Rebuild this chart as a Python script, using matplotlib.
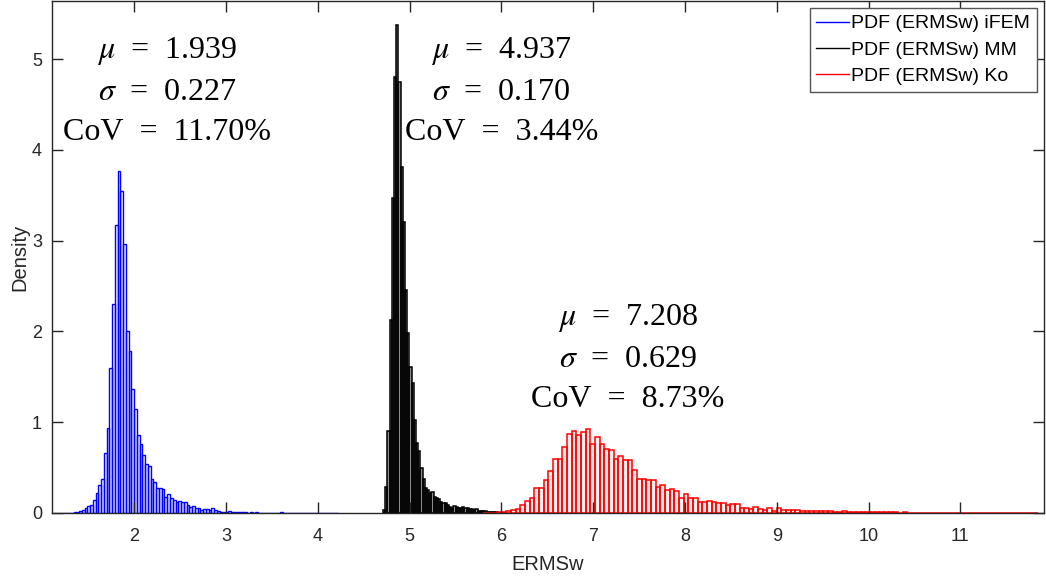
import numpy as np
import matplotlib
matplotlib.use("Agg")
import matplotlib.pyplot as plt
from matplotlib.lines import Line2D
from matplotlib.colors import to_rgba

# histogram data (pdf-normalised densities)
ifem_start, ifem_width = 1.22, 0.030
ifem_density = [
    0.0, 0.003, 0.005, 0.003, 0.01, 0.015, 0.02, 0.035, 0.06, 0.075,
    0.09, 0.145, 0.22, 0.31, 0.375, 0.66, 0.94, 1.6, 2.3, 3.17,
    3.77, 3.55, 2.96, 2.0, 1.78, 1.37, 1.15, 0.86, 0.76, 0.64,
    0.54, 0.52, 0.38, 0.34, 0.28, 0.27, 0.26, 0.18, 0.21, 0.16,
    0.14, 0.12, 0.13, 0.12, 0.12, 0.09, 0.07, 0.08, 0.05, 0.06,
    0.03, 0.04, 0.045, 0.037, 0.05, 0.03, 0.02, 0.015, 0.008, 0.008,
    0.022, 0.012, 0.006, 0.008, 0.015, 0.006, 0.01, 0.004, 0.008, 0.004,
    0.012, 0.004, 0.003, 0.003, 0.003, 0.002, 0.003, 0.002, 0.003, 0.016,
    0.002, 0.002, 0.002, 0.001, 0.002, 0.001, 0.002, 0.001, 0.001, 0.002,
    0.001, 0.001, 0.001, 0.0, 0.001, 0.001, 0.0, 0.0, 0.0, 0.001,
]

mm_start, mm_width = 4.71, 0.024
mm_density = [
    0.03, 0.29, 0.9, 2.13, 3.47, 4.8, 5.38, 4.75, 3.81, 3.21,
    2.46, 1.98, 1.61, 1.43, 1.03, 0.77, 0.68, 0.5, 0.37, 0.27,
    0.25, 0.22, 0.235, 0.18, 0.17, 0.15, 0.125, 0.11, 0.105, 0.085,
    0.07, 0.06, 0.077, 0.07, 0.05, 0.06, 0.07, 0.05, 0.05, 0.045,
    0.04, 0.03, 0.04, 0.025, 0.022, 0.025, 0.02, 0.015, 0.012, 0.01,
    0.008, 0.006, 0.005, 0.004, 0.003,
]

ko_start, ko_width = 5.80, 0.0508
ko_density = [
    0.003, 0.005, 0.005, 0.008, 0.01, 0.02,
    0.03, 0.04, 0.085, 0.13, 0.17, 0.27, 0.27, 0.36, 0.46, 0.59,
    0.59, 0.73, 0.87, 0.90, 0.86, 0.89, 0.92, 0.76, 0.84, 0.76,
    0.71, 0.69, 0.60, 0.63, 0.58, 0.58, 0.47, 0.38, 0.38, 0.36,
    0.36, 0.29, 0.31, 0.25, 0.26, 0.24, 0.17, 0.21, 0.17, 0.17,
    0.125, 0.125, 0.136, 0.125, 0.114, 0.114, 0.088, 0.1, 0.1,
    0.05, 0.05, 0.044, 0.07, 0.045, 0.033, 0.055, 0.026, 0.055, 0.033,
    0.03, 0.037, 0.033, 0.026, 0.022, 0.018, 0.018, 0.022, 0.022, 0.018,
    0.015, 0.015, 0.018, 0.015, 0.015, 0.007, 0.007, 0.007, 0.01, 0.007,
    0.008, 0.006, 0.01, 0.006, 0.005, 0.006, 0.005, 0.005, 0.004, 0.004,
    0.003, 0.002, 0.003, 0.002, 0.002, 0.002, 0.001, 0.002, 0.001, 0.001,
    0.001, 0.001, 0.002, 0.001, 0.001, 0.001, 0.001, 0.001, 0.0, 0.001,
    0.001, 0.0, 0.001, 0.001,
]

legend_labels = ["PDF (ERMSw) iFEM", "PDF (ERMSw) MM", "PDF (ERMSw) Ko"]
mu_vals = ["1.939", "4.937", "7.208"]
sigma_vals = ["0.227", "0.170", "0.629"]
cov_vals = ["11.70%", "3.44%", "8.73%"]

plt.rcParams["font.family"] = ["Liberation Sans", "DejaVu Sans"]
plt.rcParams["mathtext.fontset"] = "stix"

fig = plt.figure(figsize=(10.46, 5.76), dpi=100)
ax = fig.add_axes([0.0494, 0.1094, 0.9486, 0.8886])

axcol = "#262626"
series = [
    (ifem_start, ifem_width, ifem_density, "blue", 0.05, 1.0),
    (mm_start, mm_width, mm_density, "black", 0.45, 1.1),
    (ko_start, ko_width, ko_density, "red", 0.07, 1.1),
]
for start, width, dens, col, fa, lw in series:
    left = start + width * np.arange(len(dens))
    ax.bar(left, dens, width=width, align="edge", facecolor=to_rgba(col, fa),
           edgecolor=col, linewidth=lw)

# stats boxes
eq = "\u2002=\u2002"
text_pos = [(2.36, 4.65), (6.0, 4.65), (7.38, 1.71)]
for (tx, ty), m, s, c in zip(text_pos, mu_vals, sigma_vals, cov_vals):
    txt = "$\\mu$" + eq + m + "\n$\\sigma$" + eq + s + "\nCoV" + eq + c
    ax.text(tx, ty, txt, ha="center", va="center", multialignment="center",
            fontsize=23, family="Liberation Serif", linespacing=1.5,
            color="black")

ax.set_xlim(1.101, 11.91)
ax.set_ylim(0, 5.64)
ax.set_xticks(range(2, 12))
ax.set_yticks(range(0, 6))
ax.tick_params(direction="in", length=8, width=1, top=True, right=True,
               labelsize=13, colors=axcol)
ax.tick_params(axis="x", pad=11)
ax.tick_params(axis="y", pad=7)
for sp in ax.spines.values():
    sp.set_color(axcol)
    sp.set_linewidth(1)

ax.set_xlabel("ERMSw", fontsize=14.5, color=axcol, labelpad=7)
ax.set_ylabel("Density", fontsize=14.5, color=axcol, labelpad=2)

handles = [Line2D([], [], color=c, lw=1) for c in ["blue", "black", "red"]]
leg = ax.legend(handles, legend_labels, loc="upper right", fontsize=14,
                fancybox=False, framealpha=1, edgecolor="#555555",
                handlelength=1.7, handletextpad=0.1, borderpad=0.35,
                labelspacing=0.45, borderaxespad=0.35)
leg.get_frame().set_linewidth(1)

fig.savefig("out.png", dpi=100)
